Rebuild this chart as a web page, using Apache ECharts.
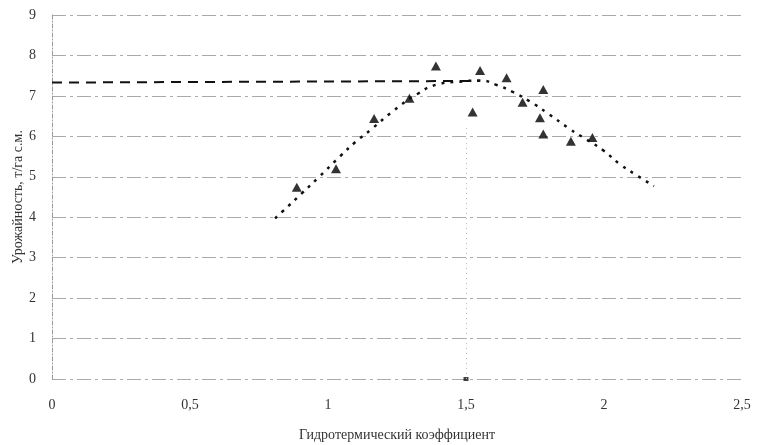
<!DOCTYPE html>
<html>
<head>
<meta charset="utf-8">
<script src="https://cdn.jsdelivr.net/npm/echarts@6/dist/echarts.min.js"></script>
<style>
  html, body { margin: 0; padding: 0; background: #fff; }
  #main { width: 759px; height: 445px; }
</style>
</head>
<body>
<div id="main"></div>
<script>
// наблюдения: ГТК и урожайность
const gtk = [0.887, 1.029, 1.167, 1.295, 1.391, 1.524, 1.551, 1.647, 1.705, 1.768, 1.780, 1.780, 1.880, 1.958];
const yieldVals = [4.74, 5.20, 6.44, 6.94, 7.74, 6.60, 7.63, 7.45, 6.84, 6.46, 6.06, 7.16, 5.88, 5.97];

// линия тренда (пунктир точками)
const trendX = [0.808, 0.838, 0.905, 0.965, 1.043, 1.101, 1.156, 1.237, 1.327, 1.394, 1.489, 1.551, 1.611, 1.672, 1.732, 1.792, 1.874, 1.937, 1.998, 2.058, 2.118, 2.181];
const trendY = [3.97, 4.16, 4.59, 4.98, 5.50, 5.87, 6.17, 6.63, 7.06, 7.28, 7.36, 7.38, 7.27, 7.09, 6.86, 6.59, 6.19, 5.92, 5.65, 5.31, 5.04, 4.77];

// горизонтальная штриховая линия
const flatX = [0, 1.55];
const flatY = [7.33, 7.37];

const xTicks = ['0', '0,5', '1', '1,5', '2', '2,5'];

const zip = (a, b) => a.map((v, i) => [v, b[i]]);

let chart = echarts.init(document.getElementById('main'));
chart.setOption({
  animation: false,
  textStyle: { fontFamily: 'Liberation Serif' },
  grid: { left: 52, right: 17, top: 15, bottom: 66, outerBoundsMode: 'none' },
  xAxis: {
    type: 'value',
    min: 0,
    max: 2.5,
    interval: 0.5,
    name: 'Гидротермический коэффициент',
    nameLocation: 'middle',
    nameGap: 49,
    nameTextStyle: { fontSize: 14, color: '#333', fontFamily: 'Liberation Serif' },
    axisLine: { show: false },
    axisTick: { show: false },
    splitLine: { show: false },
    axisLabel: {
      margin: 19,
      fontSize: 14,
      color: '#333',
      formatter: v => xTicks[Math.round(v / 0.5)]
    }
  },
  yAxis: {
    type: 'value',
    min: 0,
    max: 9,
    interval: 1,
    name: 'Урожайность, т/га с.м.',
    nameLocation: 'middle',
    nameGap: 27,
    nameMoveOverlap: false,
    nameTextStyle: { fontSize: 14, color: '#333', fontFamily: 'Liberation Serif' },
    axisLine: { show: true, lineStyle: { color: '#999', type: [4, 2, 1, 2], width: 1 } },
    axisTick: { show: false },
    axisLabel: { margin: 16, fontSize: 14, color: '#333' },
    splitLine: { show: true, lineStyle: { color: '#aaa', type: [14, 4, 3, 4], width: 1 } }
  },
  series: [
    {
      name: 'flat',
      type: 'line',
      data: zip(flatX, flatY),
      symbol: 'none',
      lineStyle: { color: '#111', width: 2, type: [10, 7] },
      silent: true
    },
    {
      name: 'trend',
      type: 'line',
      data: zip(trendX, trendY),
      smooth: true,
      symbol: 'none',
      lineStyle: { color: '#111', width: 2.5, type: [3, 6] },
      silent: true
    },
    {
      name: 'obs',
      type: 'scatter',
      data: zip(gtk, yieldVals),
      symbol: 'triangle',
      symbolSize: [10, 9],
      itemStyle: { color: '#000' }
    },
    {
      name: 'mark',
      type: 'scatter',
      data: [[1.5, 0]],
      symbol: 'rect',
      symbolSize: [5, 4],
      itemStyle: { color: '#111' },
      markLine: {
        silent: true,
        symbol: 'none',
        label: { show: false },
        lineStyle: { color: '#bbb', type: [1, 4], width: 1 },
        data: [[{ coord: [1.5, 0] }, { coord: [1.5, 6.3] }]]
      }
    }
  ]
});
</script>
</body>
</html>
